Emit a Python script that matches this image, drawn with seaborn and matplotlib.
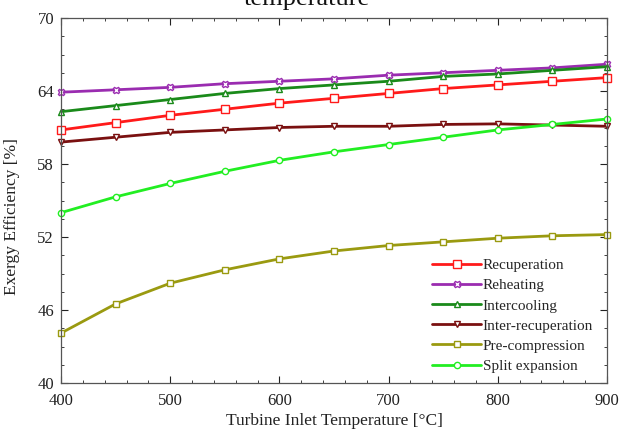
import numpy as np
import pandas as pd
import matplotlib
matplotlib.use("Agg")
import matplotlib.pyplot as plt
from matplotlib.ticker import MultipleLocator, FixedLocator
import seaborn as sns

temps = [400, 450, 500, 550, 600, 650, 700, 750, 800, 850, 900]
recuperation = [60.8, 61.4, 62.0, 62.5, 63.0, 63.4, 63.8, 64.2, 64.5, 64.8, 65.1]
reheating = [63.9, 64.1, 64.3, 64.6, 64.8, 65.0, 65.3, 65.5, 65.7, 65.9, 66.2]
intercooling = [62.3, 62.8, 63.3, 63.8, 64.2, 64.5, 64.8, 65.2, 65.4, 65.7, 66.0]
inter_recuperation = [59.8, 60.2, 60.6, 60.8, 61.0, 61.1, 61.1, 61.25, 61.3, 61.2, 61.1]
pre_compression = [44.1, 46.5, 48.2, 49.3, 50.2, 50.85, 51.3, 51.6, 51.9, 52.1, 52.2]
split_expansion = [54.0, 55.3, 56.4, 57.4, 58.3, 59.0, 59.6, 60.2, 60.8, 61.25, 61.7]

y_ticks = [40, 46, 52, 58, 64, 70]
x_ticks = [400, 500, 600, 700, 800, 900]

series_names = ["Recuperation", "Reheating", "Intercooling", "Inter-recuperation",
                "Pre-compression", "Split expansion"]
series_values = [recuperation, reheating, intercooling, inter_recuperation,
                 pre_compression, split_expansion]
colors = ["#ff1a1a", "#9a2cb0", "#1a8a1a", "#7a1010", "#9a9a10", "#22ee22"]
markers = ["s", "X", "^", "v", "s", "o"]
msizes = [6, 5, 4.5, 4.5, 5, 4.5]

rows = []
for name, vals in zip(series_names, series_values):
    for t, v in zip(temps, vals):
        rows.append({"Temperature": t, "Efficiency": v, "Series": name})
df = pd.DataFrame(rows)

sns.set_theme(style="white")
plt.rcParams["font.family"] = ["Liberation Serif", "DejaVu Serif"]

fig = plt.figure(figsize=(6.2, 4.3), dpi=100)
ax = fig.add_axes([61/620, 1-383/430, (607-61)/620, (383-18)/430])

for name, col, mk, ms in zip(series_names, colors, markers, msizes):
    sub = df[df["Series"] == name]
    sns.lineplot(data=sub, x="Temperature", y="Efficiency", ax=ax, color=col,
                 marker=mk, markersize=ms, markerfacecolor="white",
                 markeredgecolor=col, markeredgewidth=1.0, linewidth=2.0,
                 label=name, clip_on=False)

ax.set_xlim(400, 900)
ax.set_ylim(40, 70)
ax.xaxis.set_major_locator(FixedLocator(x_ticks))
ax.xaxis.set_minor_locator(MultipleLocator(20))
ax.yaxis.set_major_locator(FixedLocator(y_ticks))
ax.yaxis.set_minor_locator(MultipleLocator(1.5, offset=1.0))
ax.tick_params(which="both", direction="in", top=True, right=True,
               bottom=True, left=True, labelsize=12, colors="#222222")
ax.tick_params(which="major", length=5, width=0.8)
ax.tick_params(which="minor", length=2.5, width=0.6)
ax.tick_params(axis="x", which="major", pad=7)
ax.tick_params(axis="y", which="major", pad=5)
for s in ax.spines.values():
    s.set_color("#555555")
    s.set_linewidth(0.9)

ax.set_xlabel("Turbine Inlet Temperature [°C]", fontsize=12.5, color="#222222", labelpad=3)
ax.set_ylabel("Exergy Efficiency [%]", fontsize=12.5, color="#222222")
ax.yaxis.set_label_coords(-0.075, 0.455)

leg = ax.legend(loc="lower right", frameon=False, fontsize=11, handlelength=3.2,
                handletextpad=0.1, labelspacing=0.42, bbox_to_anchor=(1.0, -0.01))

fig.text(0.495, 1 - 5/430, "temperature", ha="center", va="baseline",
         fontsize=19, color="#111111")

fig.savefig("out.png", dpi=100)
